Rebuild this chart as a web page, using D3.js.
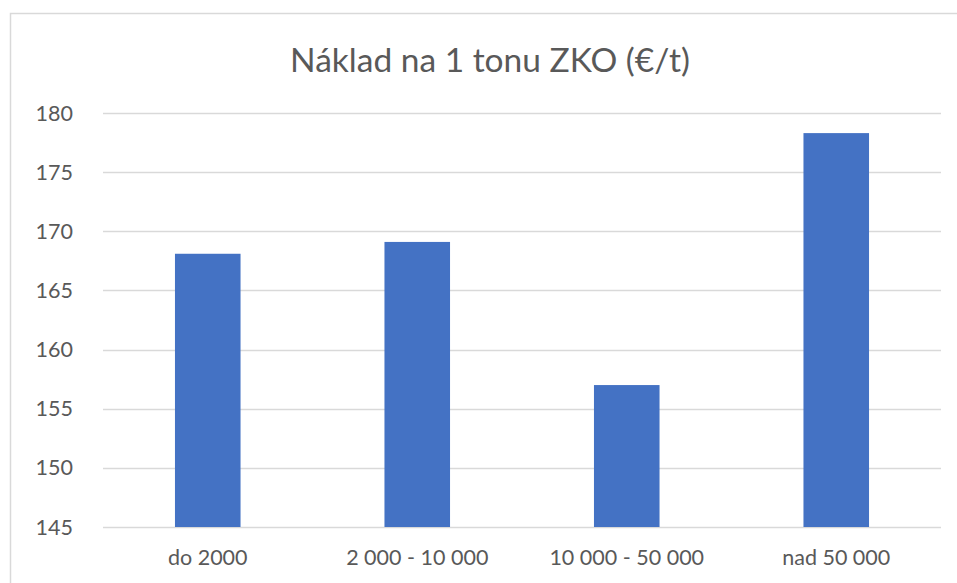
<!DOCTYPE html>
<html>
<head>
<meta charset="utf-8">
<script src="https://cdn.jsdelivr.net/npm/d3@7"></script>
<style>
  body { margin: 0; background: #fff; }
  text { font-family: Lato, "Open Sans", sans-serif; fill: #595959; }
</style>
</head>
<body>
<div id="chart"></div>
<script>
const categories = ['do 2000', '2 000 - 10 000', '10 000 - 50 000', 'nad 50 000'];
const values = [168.1, 169.1, 157.0, 178.3];
const yTicks = [145, 150, 155, 160, 165, 170, 175, 180];
const title = 'Náklad na 1 tonu ZKO (€/t)';

const width = 957;
const height = 583;

const svg = d3.select('#chart')
  .append('svg')
  .attr('width', width)
  .attr('height', height);

// chart border (cut off on the right and bottom like the reference)
svg.append('rect')
  .attr('x', 10.5)
  .attr('y', 13.5)
  .attr('width', 1000)
  .attr('height', 1000)
  .attr('fill', 'none')
  .attr('stroke', '#d9d9d9')
  .attr('stroke-width', 1.5);

const plotLeft = 103, plotRight = 941, plotTop = 113, plotBottom = 527;

const x = d3.scaleBand()
  .domain(categories)
  .range([plotLeft, plotRight])
  .paddingInner(0.687)
  .paddingOuter(0.3435);

const y = d3.scaleLinear()
  .domain([145, 180])
  .range([plotBottom, plotTop]);

// gridlines
svg.append('g')
  .selectAll('line')
  .data(yTicks)
  .enter()
  .append('line')
  .attr('x1', plotLeft)
  .attr('x2', plotRight)
  .attr('y1', d => Math.round(y(d)) + 0.5)
  .attr('y2', d => Math.round(y(d)) + 0.5)
  .attr('stroke', '#d9d9d9')
  .attr('stroke-width', 1.3);

// y labels
svg.append('g')
  .selectAll('text')
  .data(yTicks)
  .enter()
  .append('text')
  .attr('x', 73)
  .attr('y', d => y(d))
  .attr('dy', '0.35em')
  .attr('text-anchor', 'end')
  .attr('font-size', 21.5)
  .text(d => d);

// bars
svg.append('g')
  .selectAll('rect')
  .data(values)
  .enter()
  .append('rect')
  .attr('x', (d, i) => x(categories[i]))
  .attr('width', x.bandwidth())
  .attr('y', d => y(d))
  .attr('height', d => y(145) - y(d))
  .attr('fill', '#4472c4');

// x labels
svg.append('g')
  .selectAll('text')
  .data(categories)
  .enter()
  .append('text')
  .attr('x', d => x(d) + x.bandwidth() / 2)
  .attr('y', 557)
  .attr('dy', '0.35em')
  .attr('text-anchor', 'middle')
  .attr('font-size', 21.5)
  .text(d => d);

// title
svg.append('text')
  .attr('x', 490)
  .attr('y', 60)
  .attr('dy', '0.35em')
  .attr('text-anchor', 'middle')
  .attr('font-size', 33.5)
  .text(title);
</script>
</body>
</html>
